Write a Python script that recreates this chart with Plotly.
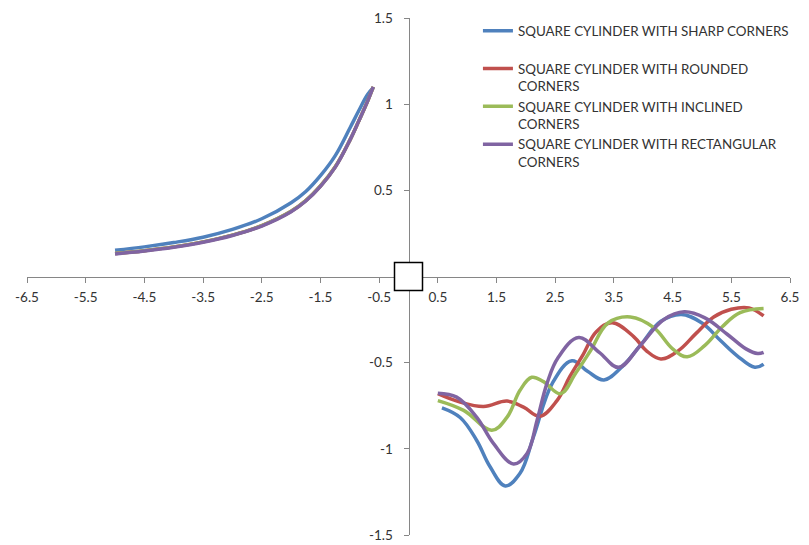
import plotly.graph_objects as go

# ---------------- data ----------------
SERIES_NAMES = [
    "SQUARE CYLINDER WITH SHARP CORNERS<br> ",
    "SQUARE CYLINDER WITH ROUNDED<br>CORNERS",
    "SQUARE CYLINDER WITH INCLINED<br>CORNERS",
    "SQUARE CYLINDER WITH RECTANGULAR<br>CORNERS",
]
COLORS = ["#4F81BD", "#C0504D", "#9BBB59", "#8064A2"]

# upstream side (x < 0), common x grid
X_LEFT = [-5.0, -4.5, -4.0, -3.5, -3.0, -2.5, -2.0, -1.75, -1.5, -1.25, -1.0, -0.85, -0.7, -0.6]
SHARP_LEFT = [0.152, 0.172, 0.197, 0.228, 0.273, 0.335, 0.428, 0.493, 0.585, 0.70, 0.86, 0.96, 1.055, 1.095]
ROUNDED_LEFT = [0.133, 0.150, 0.172, 0.201, 0.240, 0.295, 0.378, 0.440, 0.525, 0.635, 0.79, 0.90, 1.015, 1.10]
INCLINED_LEFT = [0.133, 0.150, 0.172, 0.201, 0.240, 0.295, 0.378, 0.440, 0.525, 0.635, 0.79, 0.90, 1.015, 1.10]
RECT_LEFT = [0.131, 0.148, 0.170, 0.199, 0.238, 0.293, 0.376, 0.438, 0.523, 0.633, 0.79, 0.90, 1.015, 1.10]

# wake side (x > 0)
SHARP_X = [0.57, 0.88, 1.16, 1.39, 1.65, 1.90, 2.13, 2.45, 2.785, 3.05, 3.33, 3.65, 3.95, 4.30, 4.65, 5.00, 5.32, 5.60, 5.90, 6.05]
SHARP_Y = [-0.762, -0.818, -0.95, -1.104, -1.215, -1.142, -0.93, -0.62, -0.489, -0.55, -0.600, -0.52, -0.40, -0.26, -0.22, -0.27, -0.373, -0.46, -0.527, -0.508]

ROUNDED_X = [0.50, 0.88, 1.28, 1.68, 1.96, 2.24, 2.53, 2.75, 2.98, 3.20, 3.47, 3.84, 4.05, 4.30, 4.60, 4.90, 5.20, 5.50, 5.80, 6.05]
ROUNDED_Y = [-0.68, -0.729, -0.754, -0.723, -0.758, -0.811, -0.72, -0.58, -0.45, -0.32, -0.268, -0.35, -0.43, -0.478, -0.43, -0.33, -0.235, -0.19, -0.182, -0.229]

INCLINED_X = [0.50, 0.94, 1.42, 1.68, 1.90, 2.10, 2.30, 2.59, 2.85, 3.10, 3.40, 3.78, 4.18, 4.50, 4.75, 5.05, 5.35, 5.65, 6.05]
INCLINED_Y = [-0.72, -0.777, -0.892, -0.816, -0.66, -0.585, -0.61, -0.68, -0.56, -0.431, -0.27, -0.235, -0.297, -0.42, -0.466, -0.40, -0.29, -0.21, -0.186]

RECT_X = [0.50, 0.82, 1.16, 1.45, 1.79, 2.02, 2.19, 2.36, 2.55, 2.90, 3.25, 3.58, 3.95, 4.35, 4.70, 5.05, 5.43, 5.75, 5.95, 6.05]
RECT_Y = [-0.677, -0.70, -0.816, -0.97, -1.088, -1.027, -0.835, -0.62, -0.47, -0.354, -0.44, -0.527, -0.40, -0.25, -0.205, -0.24, -0.335, -0.42, -0.447, -0.44]

X_TICKS = [-6.5, -5.5, -4.5, -3.5, -2.5, -1.5, -0.5, 0.5, 1.5, 2.5, 3.5, 4.5, 5.5, 6.5]
X_TICK_TEXT = ["-6.5", "-5.5", "-4.5", "-3.5", "-2.5", "-1.5", "-0.5", "0.5", "1.5", "2.5", "3.5", "4.5", "5.5", "6.5"]
Y_TICKS = [-1.5, -1.0, -0.5, 0.5, 1.0, 1.5]
Y_TICK_TEXT = ["-1.5", "-1", "-0.5", "0.5", "1", "1.5"]

CYLINDER_X = [0]
CYLINDER_Y = [0]

# ---------------- figure ----------------
lefts = [SHARP_LEFT, ROUNDED_LEFT, INCLINED_LEFT, RECT_LEFT]
rights_x = [SHARP_X, ROUNDED_X, INCLINED_X, RECT_X]
rights_y = [SHARP_Y, ROUNDED_Y, INCLINED_Y, RECT_Y]

fig = go.Figure()
for name, col, ly, rx, ry in zip(SERIES_NAMES, COLORS, lefts, rights_x, rights_y):
    xs = list(X_LEFT) + [None] + list(rx)
    ys = list(ly) + [None] + list(ry)
    fig.add_trace(go.Scatter(
        x=xs, y=ys, mode="lines", name=name,
        line=dict(color=col, width=3.5, shape="spline", smoothing=1.1),
        connectgaps=False,
    ))

fig.add_trace(go.Scatter(
    x=CYLINDER_X, y=CYLINDER_Y, mode="markers", showlegend=False,
    marker=dict(symbol="square", size=28, color="white",
                line=dict(color="black", width=1.5)),
    hoverinfo="skip",
))

font_family = "Lato, 'Open Sans', sans-serif"
fig.update_layout(
    width=809, height=545,
    margin=dict(l=27, r=19, t=18, b=10, autoexpand=False),
    plot_bgcolor="white", paper_bgcolor="white",
    font=dict(family=font_family, size=12, color="#333333"),
    legend=dict(
        x=0.591, y=1.005, xanchor="left", yanchor="top",
        bgcolor="rgba(0,0,0,0)", font=dict(size=13.4, color="#333333"),
        valign="top", traceorder="normal",
    ),
    xaxis=dict(
        range=[-6.5, 6.5], tickvals=X_TICKS, ticktext=X_TICK_TEXT,
        showgrid=False, zeroline=False, showline=True,
        linecolor="#868686", linewidth=1,
        ticks="outside", ticklen=5, tickcolor="#868686",
        anchor="free", position=0.5, layer="below traces",
        ticklabelstandoff=3, tickfont=dict(size=13.5, color="#333333"),
        ticklabeloverflow="allow", automargin=False, fixedrange=True,
    ),
    yaxis=dict(
        range=[-1.5, 1.5], tickvals=Y_TICKS, ticktext=Y_TICK_TEXT,
        showgrid=False, zeroline=False, showline=True,
        linecolor="#868686", linewidth=1,
        ticks="outside", ticklen=5, tickcolor="#868686",
        anchor="free", position=0.5, layer="below traces",
        ticklabelstandoff=8, tickfont=dict(size=13.5, color="#333333"),
        ticklabeloverflow="allow", automargin=False, fixedrange=True,
    ),
)

fig.write_html("out.html")
